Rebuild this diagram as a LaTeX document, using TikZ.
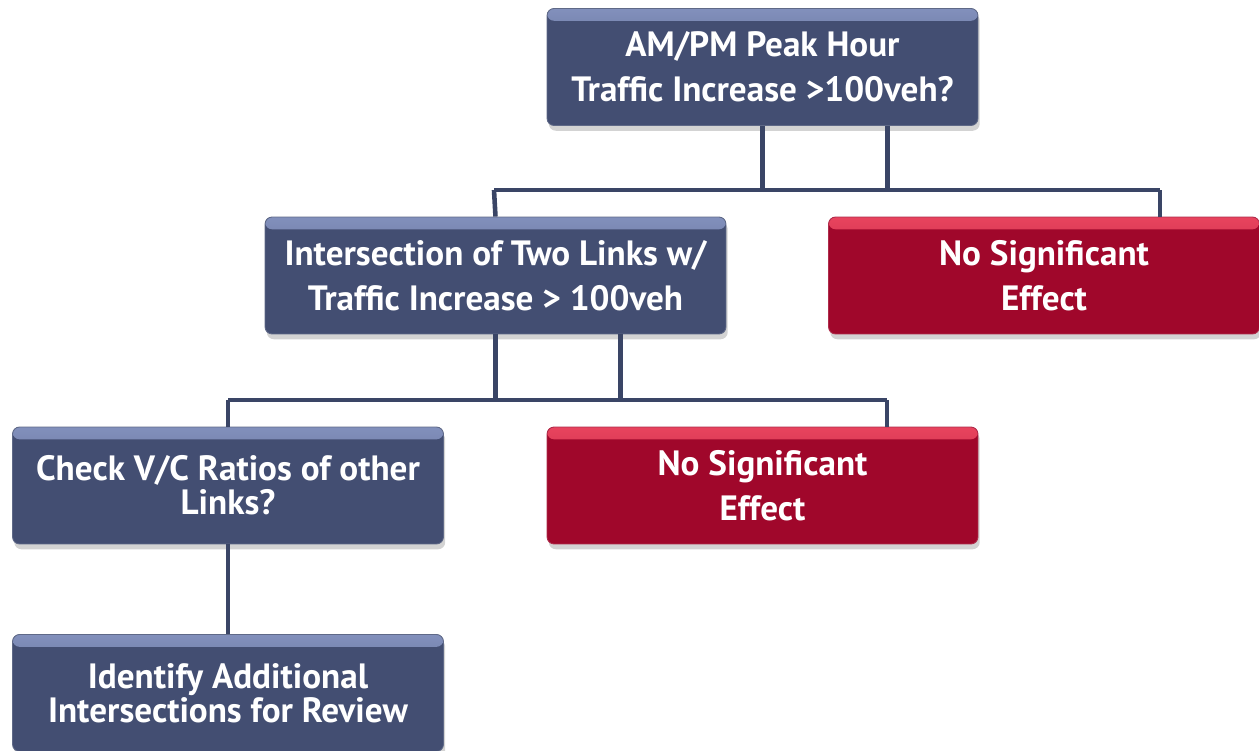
\documentclass[tikz,border=0pt]{standalone}
\usepackage{fontspec}
\setmainfont{PT Sans}
\usetikzlibrary{calc,shadows}
\definecolor{boxblue}{HTML}{434E72}
\definecolor{boxred}{HTML}{A0072B}
\definecolor{lightblue}{HTML}{8290BC}
\definecolor{lightred}{HTML}{E8445E}
\definecolor{linkcol}{HTML}{3A4566}
\begin{document}
\begin{tikzpicture}[x=0.02cm, y=-0.02cm,
  box/.style 2 args={rectangle, rounded corners=4pt, fill=#1, draw=#1!85!white, line width=.5pt,
    minimum width=8.62cm, minimum height=2.34cm, align=center, text=white,
    font=\fontsize{20}{25.5}\selectfont\bfseries,
    drop shadow={shadow xshift=1pt, shadow yshift=-3pt, opacity=.35},
    path picture={\fill[top color=#2, bottom color=#1]
      (path picture bounding box.north west) rectangle ([yshift=-7pt]path picture bounding box.north east);}},
  tight/.style={font=\fontsize{20}{19.3}\selectfont\bfseries},
  link/.style={draw=linkcol, line width=2.6pt}]

\useasboundingbox (0,0) rectangle (1259,751);

\node [box={boxblue}{lightblue}] (peak) at (762.5,67) {AM/PM Peak Hour\\Traffic Increase >100veh?};
\node [box={boxblue}{lightblue}, minimum width=9.22cm] (inter) at (495.5,275.5) {Intersection of Two Links w/\\Traffic Increase > 100veh};
\node [box={boxred}{lightred}] (nosig1) at (1044,275.5) {No Significant\\Effect};
\node [box={boxblue}{lightblue}, tight] (check) at (228,485.5) {Check V/C Ratios of other\\Links?};
\node [box={boxred}{lightred}] (nosig2) at (762.5,485.5) {No Significant\\Effect};
\node [box={boxblue}{lightblue}, tight] (ident) at (228,693) {Identify Additional\\Intersections for Review};

% first split
\coordinate (j1) at (494,190);
\coordinate (j2) at (1160,190);
\draw [link] (peak.south) -- (peak.south |- j1);
\draw [link] ($(peak.south)+(125,0)$) -- ($(peak.south |- j1)+(125,0)$);
\draw [link] (j1) -- (j2);
\draw [link] (j1) -- (inter.north);
\draw [link] (j2) -- (j2 |- nosig1.north);

% second split
\coordinate (k1) at (228,400);
\coordinate (k2) at (887,400);
\draw [link] (inter.south) -- (inter.south |- k1);
\draw [link] ($(inter.south)+(125,0)$) -- ($(inter.south |- k1)+(125,0)$);
\draw [link] (k1) -- (k2);
\draw [link] (k1) -- (check.north);
\draw [link] (k2) -- (k2 |- nosig2.north);

\draw [link] (check) -- (ident);
\end{tikzpicture}
\end{document}
